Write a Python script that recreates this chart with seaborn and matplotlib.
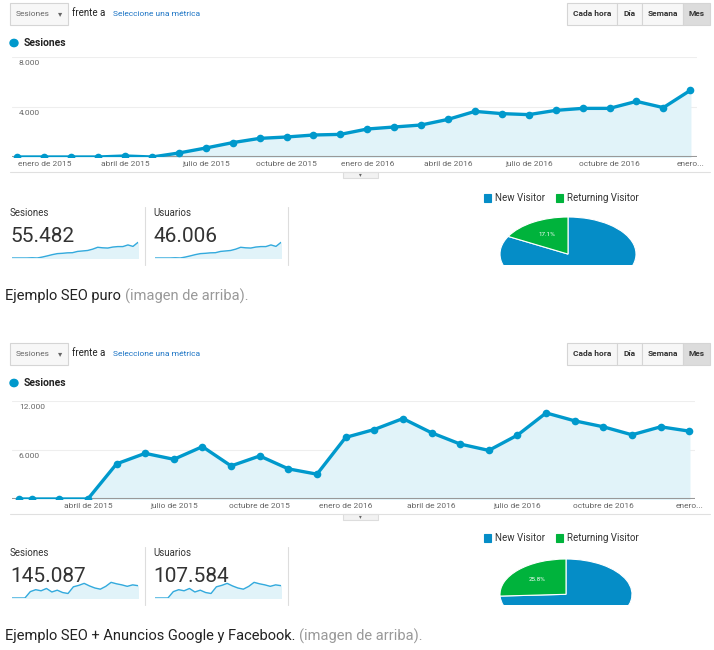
import matplotlib
matplotlib.use("Agg")
import matplotlib.pyplot as plt
import seaborn as sns
import numpy as np
import pandas as pd
from matplotlib.patches import Rectangle, Circle

sns.set_theme(style="white")
plt.rcParams['font.family'] = ['Roboto', 'DejaVu Sans']

# ---------------- data ----------------
top_sessions = [0, 0, 0, 0, 80, 0, 320, 720, 1150, 1490, 1600, 1760, 1810, 2240, 2400,
                2560, 3010, 3650, 3470, 3390, 3730, 3890, 3890, 4450, 3950, 5330]
top_tick_idx = [1, 4, 7, 10, 13, 16, 19, 22, 25]
top_tick_labels = ["enero de 2015", "abril de 2015", "julio de 2015", "octubre de 2015",
                   "enero de 2016", "abril de 2016", "julio de 2016", "octubre de 2016", "enero..."]
top_kpi = ["55.482", "46.006"]
top_pie = [82.9, 17.1]

bot_month = [0.6, 1.05, 2, 3, 4, 5, 6, 7, 8, 9, 10, 11, 12, 13, 14, 15, 16, 17, 18, 19,
             20, 21, 22, 23, 24]
bot_sessions = [0, 0, 0, 0, 4300, 5590, 4860, 6410, 4050, 5270, 3690, 3040, 7540, 8510,
                9850, 8110, 6730, 5950, 7820, 10540, 9570, 8840, 7860, 8840, 8310]
bot_tick_idx = [3, 6, 9, 12, 15, 18, 21, 24]
bot_tick_labels = ["abril de 2015", "julio de 2015", "octubre de 2015", "enero de 2016",
                   "abril de 2016", "julio de 2016", "octubre de 2016", "enero..."]
bot_kpi = ["145.087", "107.584"]
bot_pie = [74.2, 25.8]

BLUE = "#0099cc"
FILL = "#e1f3f9"
PIE_BLUE = "#058dc7"
PIE_GREEN = "#00b33c"
W, H = 714, 650

fig = plt.figure(figsize=(W / 100, H / 100), dpi=100)
fig.patch.set_facecolor("white")


def ax_px(l, t, r, b):
    return fig.add_axes([l / W, 1 - b / H, (r - l) / W, (b - t) / H])


def rect(l, t, r, b, fc="white", ec="#d5d5d5", lw=0.8):
    fig.add_artist(Rectangle((l / W, 1 - b / H), (r - l) / W, (b - t) / H,
                             transform=fig.transFigure, fc=fc, ec=ec, lw=lw))


def txt(x, y, s, **kw):
    fig.text(x / W, 1 - y / H, s, **kw)


def panel(oy, x, y, xlim, ax_box, ymax, yticks, ytick_lbl, tick_pos, tick_lbl,
          kpis, pie, pie_geom, caption_a, caption_b, spark_x, spark_y):
    # header
    rect(10, oy + 3, 68, oy + 25, fc="#f7f7f7")
    txt(16, oy + 14, "Sesiones", fontsize=6, color="#666", va="center")
    txt(58, oy + 14, "▾", fontsize=6, color="#666", va="center")
    txt(72, oy + 13, "frente a", fontsize=7, color="#222", va="center")
    txt(113, oy + 14, "Seleccione una métrica", fontsize=6, color="#1a73c4", va="center")
    segs = [(567, 617, "Cada hora"), (617, 642, "Día"), (642, 683, "Semana"), (683, 710, "Mes")]
    for l, r, s in segs:
        rect(l, oy + 3, r, oy + 25, fc="#dcdcdc" if s == "Mes" else "#f7f7f7")
        txt((l + r) / 2, oy + 14, s, fontsize=6, color="#333", ha="center", va="center",
            weight="bold")
    fig.add_artist(Circle((14 / W, 1 - (oy + 43) / H), 4 / W, transform=fig.transFigure,
                          color=BLUE))
    txt(24, oy + 43, "Sesiones", fontsize=7.5, color="#222", va="center", weight="bold")

    # main chart
    ax = ax_px(*ax_box)
    df = pd.DataFrame({"x": x, "y": y})
    ax.fill_between(x, y, 0, color=FILL, zorder=1)
    sns.lineplot(data=df, x="x", y="y", ax=ax, color=BLUE, lw=2.4, marker="o",
                 markersize=5.5, markeredgewidth=0, zorder=3)
    ax.set_xlim(*xlim)
    ax.set_ylim(0, ymax)
    for v in yticks:
        ax.axhline(v, color="#eeeeee", lw=0.8, zorder=0)
    ax.axhline(0, color="#999999", lw=1.5, zorder=2)
    ax.set_yticks([])
    ax.set_xticks(tick_pos)
    ax.set_xticklabels(tick_lbl, fontsize=6, color="#666")
    ax.tick_params(axis="x", length=0, pad=3)
    ax.set_xlabel("")
    ax.set_ylabel("")
    for s in ax.spines.values():
        s.set_visible(False)
    ax.patch.set_alpha(0)
    for v, lbl in zip(yticks, ytick_lbl):
        ax.text(0.01, v - ymax * 0.03, lbl, transform=ax.get_yaxis_transform(),
                fontsize=6, color="#666", va="top")
    sep = ax_box[3] + 15
    fig.add_artist(plt.Line2D([10 / W, 710 / W], [1 - sep / H] * 2,
                              transform=fig.transFigure, color="#e0e0e0", lw=0.8))
    rect(343, sep, 378, sep + 6, fc="#f2f2f2", ec="#dddddd")
    txt(360, sep + 3, "▾", fontsize=4, color="#666", ha="center", va="center")

    # KPIs
    for i, (lbl, val) in enumerate(zip(["Sesiones", "Usuarios"], kpis)):
        bx = 10 + i * 143
        txt(bx, oy + 213, lbl, fontsize=7, color="#333", va="center")
        txt(bx, oy + 237, val, fontsize=15, color="#333", va="center")
        sa = ax_px(bx + 2, oy + 240, bx + 128, oy + 258)
        sa.fill_between(spark_x, spark_y, 0, color=FILL)
        sns.lineplot(x=spark_x, y=spark_y, ax=sa, color="#33aadd", lw=1)
        sa.set_ylim(0, max(spark_y) * 1.15)
        sa.set_xlim(spark_x[0], spark_x[-1])
        sa.axis("off")
        fig.add_artist(plt.Line2D([(bx + 135) / W] * 2, [1 - (oy + 207) / H, 1 - (oy + 265) / H],
                                  transform=fig.transFigure, color="#dddddd", lw=0.8))

    # legend
    rect(484, oy + 194, 491, oy + 202, fc=PIE_BLUE, ec=PIE_BLUE)
    txt(495, oy + 198, "New Visitor", fontsize=7, color="#333", va="center")
    rect(556, oy + 194, 563, oy + 202, fc=PIE_GREEN, ec=PIE_GREEN)
    txt(567, oy + 198, "Returning Visitor", fontsize=7, color="#333", va="center")

    # half pie (clipped at the bottom)
    cx, cy, R, clip_y = pie_geom
    pa = ax_px(cx - R, cy - R, cx + R, clip_y)
    wedges, _, autot = pa.pie(pie, colors=[PIE_BLUE, PIE_GREEN], startangle=90,
                              counterclock=False, radius=1, autopct="%.1f%%",
                              pctdistance=0.6, wedgeprops=dict(ec="white", lw=0.8),
                              textprops=dict(fontsize=4.5, color="white"))
    for w in wedges:
        w.set_clip_on(True)
        w.set_clip_path(pa.patch)
    autot[0].set_visible(False)
    pa.set_aspect("auto")
    pa.set_xlim(-1, 1)
    pa.set_ylim(-(cy - clip_y) / R, 1)
    pa.axis("off")

    # caption
    t = fig.text(5 / W, 1 - (oy + 296) / H, caption_a, fontsize=10.5, color="#222", va="center")
    fig.canvas.draw()
    bb = t.get_window_extent()
    fig.text(bb.x1 / W + 4 / W, 1 - (oy + 296) / H, caption_b, fontsize=10.5,
             color="#999", va="center")


top_x = list(range(len(top_sessions)))
panel(0, top_x, top_sessions, (-0.2, 25.25), (12, 57, 697, 157), 8000, [4000, 8000],
      ["4.000", "8.000"], top_tick_idx, top_tick_labels, top_kpi, top_pie,
      (568, 285, 68, 265), "Ejemplo SEO puro", "(imagen de arriba).", top_x, top_sessions)

panel(340, bot_month, bot_sessions, (0.35, 24.2), (12, 401, 695, 499), 12000, [6000, 12000],
      ["6.000", "12.000"], bot_tick_idx, bot_tick_labels, bot_kpi, bot_pie,
      (566, 625, 66, 605), "Ejemplo SEO + Anuncios Google y Facebook.", "(imagen de arriba).",
      bot_month, bot_sessions)

fig.savefig("out.png", dpi=100, facecolor="white")
